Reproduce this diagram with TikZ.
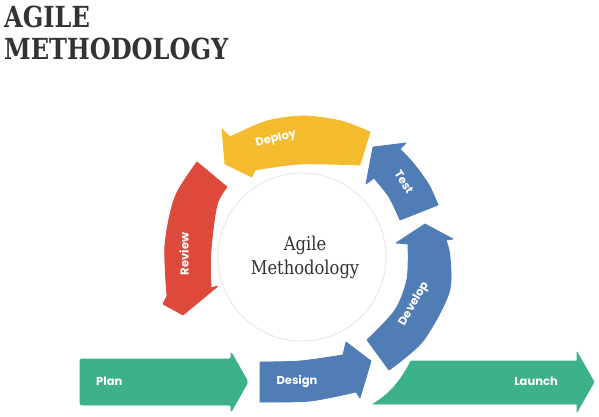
\documentclass[tikz,border=0pt]{standalone}
\usepackage{fontspec}
\newfontfamily\slabfont[FakeStretch=0.86]{DejaVu Serif}
\newfontfamily\headfont[FakeStretch=0.83]{DejaVu Serif}
\newfontfamily\tagfont{Poppins}
\definecolor{ink}{RGB}{51,51,51}
\definecolor{rim}{RGB}{236,228,226}
\definecolor{leaf}{RGB}{61,176,140}
\definecolor{sea}{RGB}{80,125,182}
\definecolor{brick}{RGB}{221,73,58}
\definecolor{sun}{RGB}{243,187,45}
\begin{document}
\begin{tikzpicture}[x=1pt,y=-1pt,
  band/.style={line width=0.8pt,line join=round},
  tag/.style={text=white,inner sep=0pt,font=\tagfont\bfseries\fontsize{11.5}{13}\selectfont},
  heading/.style={anchor=base west,inner sep=0pt,text=ink,font=\headfont\bfseries\fontsize{29}{32}\selectfont}]
\useasboundingbox[fill=white] (0,0) rectangle (599,417);

% title
\node[heading] (title1) at (4,28) {AGILE};
\node[heading] (title2) at (4,60) {METHODOLOGY};

% central disc
\node[circle,draw=rim,line width=0.8pt,fill=white,minimum size=168pt,inner sep=0pt] (hub) at (302,257) {};
\node[align=center,text=ink,inner sep=0pt,font=\slabfont\fontsize{19}{24}\selectfont] (hubtext) at (305,257) {Agile\\Methodology};

% Plan
\fill[leaf,draw=leaf,band,rounded corners=2pt] (80,359) -- (231,359) -- (231,352) -- (248,382) -- (231,412) -- (231,405) -- (80,405) -- cycle;
\node[tag,anchor=west] (plan) at (96,381) {Plan};

% Design
\fill[sea,draw=sea,band] plot[smooth] coordinates {(260,362) (300,361) (343,355)} -- (346,342) -- (371,361) -- (360,398) -- (356,392) -- plot[smooth] coordinates {(356,392) (310,401) (260,402)} -- cycle;
\node[tag] (design) at (297,381) {Design};

% Develop
\fill[sea,draw=sea,band] plot[smooth] coordinates {(389,370) (423,341) (449,293) (450,257) (446,240)} -- (453,239) -- (425,224) -- (396,243) -- (408,244) -- plot[smooth] coordinates {(408,244) (407,279) (395,310) (367,340)} -- cycle;
\node[tag,rotate=60] (develop) at (414,304) {Develop};

% Test
\fill[sea,draw=sea,band] plot[smooth] coordinates {(438,205) (429,185) (414,164) (400,149)} -- (406,143) -- (373,147) -- (366,184) -- (374,178) -- plot[smooth] coordinates {(374,178) (389,197) (400,220)} -- cycle;
\node[tag,rotate=-58] (test) at (404,182) {Test};

% Deploy
\fill[sun,draw=sun,band] plot[smooth] coordinates {(370,132) (341,121) (304,116) (267,121) (230,137)} -- (222,129) -- (225,164) -- (252,177) -- (255,170) -- plot[smooth] coordinates {(255,170) (300,164) (360,165)} -- cycle;
\node[tag,rotate=14] (deploy) at (276,139) {Deploy};

% Review
\fill[brick,draw=brick,band] plot[smooth] coordinates {(197,162) (175,197) (165,245) (167,296)} -- (163,304) -- (183,315) -- (218,286) -- (211,288) -- plot[smooth] coordinates {(211,288) (211,250) (217,205) (227,187)} -- cycle;
\node[tag,rotate=90] (review) at (184,254) {Review};

% Launch
\fill[leaf,draw=leaf,band] (373,404) .. controls (392,393) and (402,378) .. (411,361) -- (577,361) -- (577,352) -- (594,382) -- (577,412) -- (577,404) -- cycle;
\node[tag] (launch) at (536,381) {Launch};
\end{tikzpicture}
\end{document}
